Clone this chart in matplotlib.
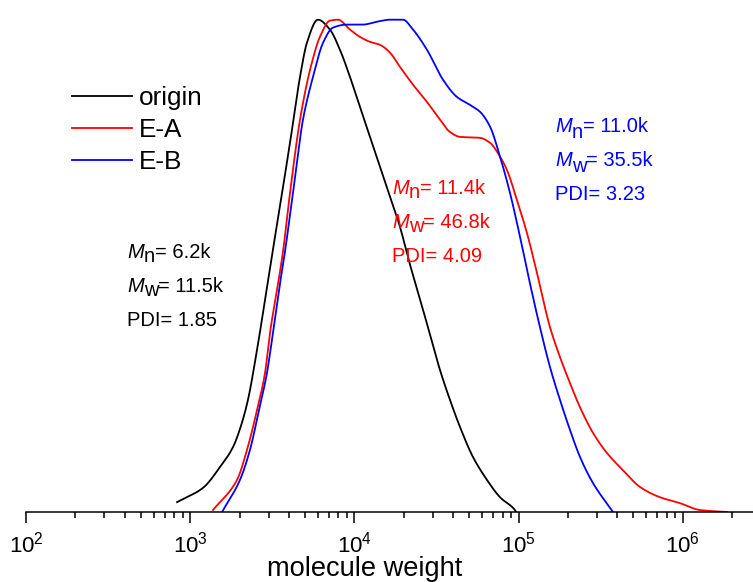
import numpy as np
import matplotlib
matplotlib.use("Agg")
import matplotlib.pyplot as plt
from matplotlib.ticker import LogLocator, FuncFormatter
from matplotlib.transforms import offset_copy

plt.rcParams['font.family'] = ['Liberation Sans', 'DejaVu Sans']
plt.rcParams['mathtext.fontset'] = 'custom'
plt.rcParams['mathtext.rm'] = 'Liberation Sans'
plt.rcParams['mathtext.it'] = 'Liberation Sans:italic'

# log10(molecular weight) and normalized signal
origin_logm = [2.920, 3.078, 3.181, 3.261, 3.315, 3.352, 3.407, 3.456, 3.504, 3.553,
               3.608, 3.669, 3.711, 3.778, 3.851, 3.912, 3.973, 4.034, 4.095,
               4.156, 4.217, 4.278, 4.326, 4.424, 4.521, 4.582, 4.643, 4.722, 4.808,
               4.887, 4.978, 4.985]
origin_val = [0.020, 0.049, 0.091, 0.132, 0.181, 0.228, 0.329, 0.431, 0.533, 0.634,
              0.750, 0.884, 0.953, 1.000, 0.980, 0.939, 0.884, 0.823, 0.762,
              0.701, 0.640, 0.579, 0.518, 0.404, 0.289, 0.228, 0.173, 0.112, 0.065,
              0.030, 0.004, 0.000]

ea_logm = [3.139, 3.285, 3.346, 3.407, 3.456, 3.486, 3.529, 3.565, 3.608, 3.669,
           3.730, 3.790, 3.851, 3.900, 3.973, 4.034, 4.095, 4.156, 4.217, 4.278,
           4.357, 4.442, 4.521, 4.582, 4.643, 4.765, 4.826, 4.887, 4.929, 4.990,
           5.051, 5.112, 5.191, 5.252, 5.313, 5.374, 5.453, 5.538, 5.636, 5.739,
           5.861, 5.983, 6.105, 6.269]
ea_val = [0.004, 0.065, 0.126, 0.207, 0.283, 0.364, 0.451, 0.528, 0.648, 0.797,
          0.898, 0.965, 0.998, 1.000, 0.980, 0.965, 0.955, 0.949, 0.933, 0.904,
          0.868, 0.833, 0.797, 0.772, 0.762, 0.760, 0.750, 0.722, 0.695, 0.634,
          0.567, 0.486, 0.376, 0.315, 0.262, 0.213, 0.161, 0.120, 0.085, 0.051,
          0.030, 0.018, 0.004, 0.000]

eb_logm = [3.194, 3.303, 3.364, 3.419, 3.468, 3.504, 3.541, 3.577, 3.626, 3.687,
           3.748, 3.809, 3.870, 3.955, 4.052, 4.138, 4.217, 4.296, 4.357, 4.442,
           4.540, 4.625, 4.704, 4.765, 4.826, 4.887, 4.948, 5.009, 5.069, 5.130,
           5.191, 5.252, 5.313, 5.374, 5.453, 5.575]
eb_val = [0.000, 0.065, 0.126, 0.207, 0.283, 0.364, 0.451, 0.528, 0.648, 0.797,
          0.884, 0.953, 0.984, 0.990, 0.990, 0.996, 1.000, 1.000, 0.980, 0.939,
          0.878, 0.843, 0.827, 0.813, 0.783, 0.722, 0.648, 0.559, 0.465, 0.376,
          0.295, 0.228, 0.167, 0.112, 0.059, 0.000]

labels = ['origin', 'E-A', 'E-B']
colors = ['black', '#ff0000', '#0000ff']
mn = ['6.2k', '11.4k', '11.0k']
mw = ['11.5k', '46.8k', '35.5k']
pdi = ['1.85', '4.09', '3.23']


def pchip(x, y, xn):
    # monotone cubic through the read points, only to draw a smooth line
    x = np.asarray(x, float)
    y = np.asarray(y, float)
    h = np.diff(x)
    d = np.diff(y) / h
    m = np.zeros_like(y)
    for k in range(1, len(x) - 1):
        if d[k - 1] * d[k] > 0:
            w1 = 2 * h[k] + h[k - 1]
            w2 = h[k] + 2 * h[k - 1]
            m[k] = (w1 + w2) / (w1 / d[k - 1] + w2 / d[k])
    m[0] = d[0]
    m[-1] = d[-1]
    idx = np.clip(np.searchsorted(x, xn) - 1, 0, len(x) - 2)
    t = (xn - x[idx]) / h[idx]
    h00 = 2 * t**3 - 3 * t**2 + 1
    h10 = t**3 - 2 * t**2 + t
    h01 = -2 * t**3 + 3 * t**2
    h11 = t**3 - t**2
    return (h00 * y[idx] + h10 * h[idx] * m[idx] + h01 * y[idx + 1]
            + h11 * h[idx] * m[idx + 1])


fig = plt.figure(figsize=(7.53, 5.82), dpi=100)
ax = fig.add_axes([26 / 753, 1 - 512 / 582, 1 - 26 / 753, 512 / 582])

series = [(origin_logm, origin_val), (ea_logm, ea_val), (eb_logm, eb_val)]
for (lm, v), lab, c in zip(series, labels, colors):
    xs = np.linspace(lm[0], lm[-1], 600)
    ax.plot(10 ** xs, np.clip(pchip(lm, v, xs), 0, None), color=c, lw=1.3,
            label=lab)

ax.set_xscale('log')
ax.set_xlim(1e2, 10 ** 6.428)
ax.set_ylim(0, 1.04)
ax.xaxis.set_major_locator(LogLocator(base=10))
ax.xaxis.set_minor_locator(LogLocator(base=10, subs=np.arange(2, 10)))
ax.xaxis.set_major_formatter(FuncFormatter(
    lambda v, p: r'$10^{%d}$' % int(round(np.log10(v)))))
ax.tick_params(axis='x', which='major', direction='out', length=8, width=1.1,
               pad=6)
ax.tick_params(axis='x', which='minor', direction='out', length=4.5, width=1.1)
for lbl in ax.get_xticklabels():
    lbl.set_fontsize(16)
ax.set_yticks([])
for s in ['left', 'right', 'top']:
    ax.spines[s].set_visible(False)
ax.spines['bottom'].set_linewidth(1.1)
ax.set_xlabel('molecule weight', fontsize=19.6)
ax.xaxis.set_label_coords((365 - 26) / 727, -0.085)

ax.legend(loc='upper left', bbox_to_anchor=(72 / 753, 1 - 86 / 582),
          bbox_transform=fig.transFigure, frameon=False, fontsize=18.8,
          handlelength=2.3, handletextpad=0.27, labelspacing=0.3, borderpad=0,
          borderaxespad=0)

# annotation blocks: (x pixel, y pixel of first row, row spacing)
pos = [(127, 252, 34), (392, 188, 34), (555, 127, 34)]
fs = 14.5
renderer = fig.canvas.get_renderer()
for (px, py, dy), c, a, b, p in zip(pos, colors, mn, mw, pdi):
    for i, (sub, val) in enumerate([('n', a), ('w', b)]):
        y = 1 - (py + i * dy) / 582
        t1 = fig.text(px / 753, y, 'M', style='italic', color=c, fontsize=fs,
                      ha='left', va='center')
        w1 = t1.get_window_extent(renderer).width
        tr = offset_copy(fig.transFigure, fig=fig, x=w1, y=-5, units='dots')
        t2 = fig.text(px / 753, y, sub, color=c, fontsize=fs, ha='left',
                      va='center', transform=tr)
        w2 = t2.get_window_extent(renderer).width
        tr2 = offset_copy(fig.transFigure, fig=fig, x=w1 + w2, y=0, units='dots')
        fig.text(px / 753, y, '= ' + val, color=c, fontsize=fs, ha='left',
                 va='center', transform=tr2)
    fig.text(px / 753, 1 - (py + 2 * dy) / 582, 'PDI= ' + p, color=c,
             fontsize=fs, ha='left', va='center')

fig.savefig('out.png', dpi=100)
